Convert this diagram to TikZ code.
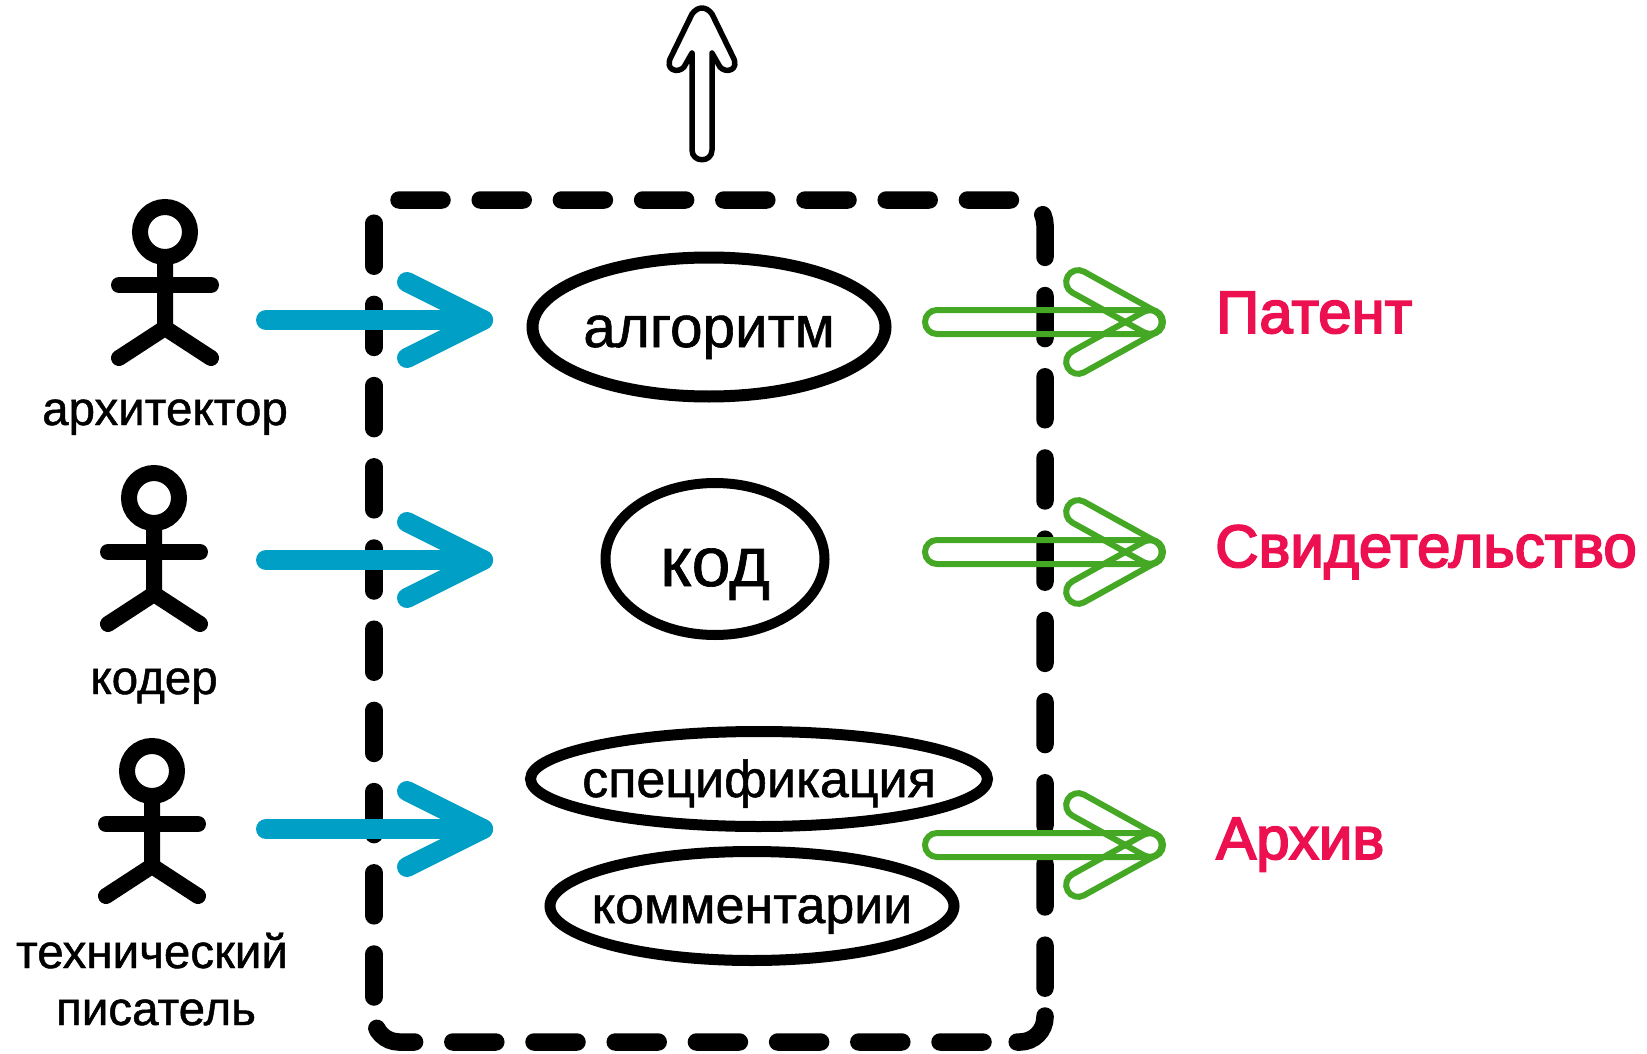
\documentclass[tikz,border=0pt]{standalone}
\usepackage{fontspec}
\setmainfont{Liberation Sans}
\newfontfamily\heavyfont[FakeBold=1]{Liberation Sans}
\newfontfamily\redfont[FakeBold=3]{Liberation Sans}
\usetikzlibrary{shapes.geometric,shapes.misc}
\definecolor{arrowblue}{HTML}{00A0C6}
\definecolor{arrowgreen}{HTML}{45A825}
\definecolor{labelred}{HTML}{EC1050}
\tikzset{
  boxline/.style={line width=17.5pt,line cap=round,dash pattern=on 43pt off 38.2pt,rounded corners=25pt},
  stick/.style={line width=16pt,line cap=round,line join=round},
  head/.style={circle,draw,line width=16pt,minimum size=50pt,inner sep=0pt,outer sep=0pt},
  actorname/.style={anchor=base,align=center,font=\heavyfont\fontsize{47.5}{57}\selectfont},
  usecase/.style={ellipse,draw,inner sep=0pt},
  casename/.style={anchor=base,inner sep=0pt},
  blueflow/.style={draw=arrowblue,line width=20pt,line cap=round,line join=round},
  greenbar/.style={rounded rectangle,draw=arrowgreen,line width=6pt,minimum height=24pt,inner sep=0pt,outer sep=0pt},
  result/.style={anchor=base west,inner sep=0pt,text=labelred,font=\redfont\fontsize{60}{70}\selectfont}
}
\begin{document}
\begin{tikzpicture}[x=1pt,y=-1pt]
\useasboundingbox (0,0) rectangle (1647,1054);
%
\draw[boxline] (399,200) -- (1045,200) -- (1045,990);
\draw[boxline] (1045,1016) -- (1045,1042) -- (1000,1042);
\draw[boxline] (983,1042) -- (374,1042) -- (374,1005);
\draw[boxline] (374,997) -- (374,215);
%
\draw[line width=5.5pt,line join=round,fill=white]
  (712,53) -- (720,67) .. controls (726,74) and (740,70) .. (733,57) -- (712,14)
  .. controls (706,6) and (698,6) .. (692,14) -- (671,57)
  .. controls (664,70) and (678,74) .. (684,67) -- (692,53) -- (692,150)
  .. controls (692,163) and (712,163) .. (712,150) -- cycle;
%
\node[head] (architect) at (165,232) {};
\draw[stick] (architect) -- (165,328) -- (119,358);
\draw[stick] (165,328) -- (211,358);
\draw[stick] (119,285) -- (211,285);
\node[actorname] (architectname) at (165,425) {архитектор};
%
\node[head] (coder) at (154,498) {};
\draw[stick] (coder) -- (154,594) -- (108,624);
\draw[stick] (154,594) -- (200,624);
\draw[stick] (108,552) -- (200,552);
\node[actorname] (codername) at (154,694) {кодер};
%
\node[head] (writer) at (152,771) {};
\draw[stick] (writer) -- (152,866) -- (106,896);
\draw[stick] (152,866) -- (198,896);
\draw[stick] (106,824) -- (198,824);
\node[actorname] (writername) at (152,1025) {технический\\\hspace*{8pt}писатель};
%
\node[usecase,line width=12pt,minimum width=353pt,minimum height=139pt] (algo) at (709,327) {};
\node[casename,font=\heavyfont\fontsize{58.5}{64}\selectfont] (algoname) at (709,347) {алгоритм};
\node[usecase,line width=10pt,minimum width=219pt,minimum height=152pt] (code) at (715,559) {};
\node[casename,font=\heavyfont\fontsize{70}{76}\selectfont] (codename) at (715,586) {код};
\node[usecase,line width=11pt,minimum width=457pt,minimum height=95pt] (spec) at (759,779) {};
\node[casename,font=\heavyfont\fontsize{52}{58}\selectfont] (specname) at (759,797) {спецификация};
\node[usecase,line width=11pt,minimum width=404pt,minimum height=109pt] (comment) at (752,906) {};
\node[casename,font=\heavyfont\fontsize{52}{58}\selectfont] (commentname) at (752,923) {комментарии};
%
\coordinate (in1) at (266,320);
\coordinate (tip1) at (483,320);
\draw[blueflow] (in1) -- (tip1);
\draw[blueflow] (407,282) -- (tip1) -- (407,358);
\coordinate (in2) at (266,560);
\coordinate (tip2) at (483,560);
\draw[blueflow] (in2) -- (tip2);
\draw[blueflow] (407,522) -- (tip2) -- (407,598);
\coordinate (in3) at (266,829);
\coordinate (tip3) at (483,829);
\draw[blueflow] (in3) -- (tip3);
\draw[blueflow] (407,791) -- (tip3) -- (407,867);
%
\node[greenbar,minimum width=238pt] (bar1) at (1044,322) {};
\node[greenbar,minimum width=106pt,rotate=-29] (up1) at (1114,302) {};
\node[greenbar,minimum width=106pt,rotate=29] (down1) at (1114,342) {};
\node[greenbar,minimum width=238pt] (bar2) at (1044,552) {};
\node[greenbar,minimum width=106pt,rotate=-29] (up2) at (1114,532) {};
\node[greenbar,minimum width=106pt,rotate=29] (down2) at (1114,572) {};
\node[greenbar,minimum width=238pt] (bar3) at (1044,845) {};
\node[greenbar,minimum width=106pt,rotate=-29] (up3) at (1114,825) {};
\node[greenbar,minimum width=106pt,rotate=29] (down3) at (1114,865) {};
%
\node[result] (patent) at (1216,333) {Патент};
\node[result] (certificate) at (1215,567) {Свидетельство};
\node[result] (archive) at (1216,859) {Архив};
\end{tikzpicture}
\end{document}
